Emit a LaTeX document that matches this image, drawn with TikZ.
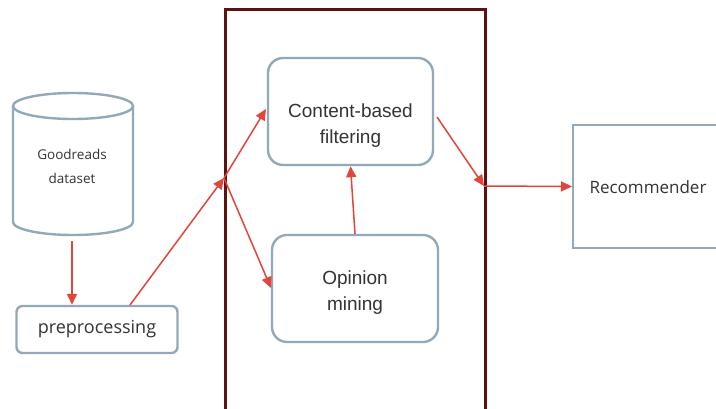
\documentclass[tikz,border=0pt]{standalone}
\usepackage{fontspec}
\setmainfont{Open Sans}
\newfontfamily\arialfont{Liberation Sans}
\usetikzlibrary{arrows.meta}
\definecolor{boxline}{HTML}{93A9B8}
\definecolor{flow}{HTML}{E2453A}
\definecolor{frame}{HTML}{5C1212}
\begin{document}
\begin{tikzpicture}[x=1pt,y=-1pt,
  roundbox/.style={draw=boxline, line width=2.4pt, rounded corners=15pt, fill=white, align=center},
  flowarrow/.style={draw=flow, line width=1.5pt, -{Triangle[length=11pt,width=10pt]}},
  every node/.style={text=black!80}]
\useasboundingbox (0,0) rectangle (716,408);
\fill[white] (0,0) rectangle (716,408);

% large frame around the filtering stage
\draw[frame, line width=3pt] (225,420) -- (225,9) -- (485,9) -- (485,420);

% database cylinder
\node (data) [minimum width=120pt, minimum height=142pt, inner sep=0pt] at (73,164) {};
\draw[boxline, line width=2.4pt, fill=white]
  (13,106) -- (13,222) arc[start angle=180, end angle=0, x radius=60, y radius=13]
  -- (133,106);
\draw[boxline, line width=2.4pt] (73,106) ellipse[x radius=60, y radius=13];
\node (datalabel) [font=\fontsize{13.5}{24}\selectfont, align=center] at (72,166) {Goodreads\\dataset};

% processing boxes
\node (pre) [roundbox, rounded corners=6pt, minimum width=161pt, minimum height=47pt,
  font=\fontsize{18}{20}\selectfont] at (97,329.5) {preprocessing};
\node (cbf) [roundbox, minimum width=165pt, minimum height=107pt] at (350.5,111.5) {};
\node (cbflabel) [align=center, font=\arialfont\fontsize{19}{26}\selectfont]
  at (350.5,125.5) {Content-based\\filtering};
\node (om) [roundbox, minimum width=166pt, minimum height=107pt] at (355,288.5) {};
\node (omlabel) [align=center, font=\arialfont\fontsize{19}{26}\selectfont]
  at (355,292.5) {Opinion\\mining};
\node (rec) [draw=boxline, line width=2.4pt, minimum width=160pt, minimum height=123pt,
  anchor=west] at (572,186.5) {};
\node (reclabel) at (648,187) [font=\fontsize{17}{19}\selectfont] {Recommender};

% connectors
\coordinate (split) at (224,178);
\coordinate (join) at (484,186);
\draw[flowarrow] (72,241) -- (pre.north -| 72,0);
\draw[flowarrow] (130,305) -- (split);
\draw[flowarrow] (split) -- (266,109);
\draw[flowarrow] (split) -- (271,288);
\draw[flowarrow] (om.north) -- (cbf.south);
\draw[flowarrow] (437,117) -- (join);
\draw[flowarrow] (join) -- (rec.west);
\end{tikzpicture}
\end{document}
